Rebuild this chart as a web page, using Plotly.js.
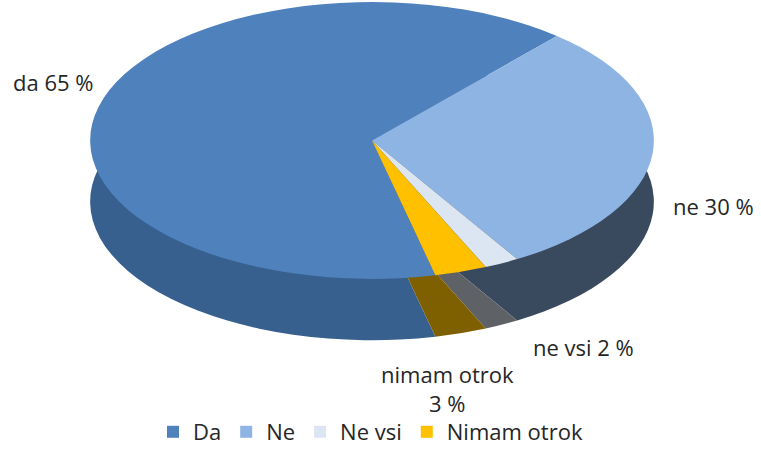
<!DOCTYPE html>
<html>
<head>
<meta charset="utf-8">
<script src="https://cdn.plot.ly/plotly-3.0.1.min.js"></script>
<style>html,body{margin:0;padding:0;background:#fff;}#chart{width:761px;height:453px;}</style>
</head>
<body>
<div id="chart"></div>
<script>
const categories = ["Da", "Ne", "Ne vsi", "Nimam otrok"];
const values = [65, 30, 2, 3];
const sliceLabels = ["da", "ne", "ne vsi", "nimam otrok"];
const colors = ["#4F81BD", "#8EB4E3", "#DCE6F2", "#FFC000"];
const sideColors = ["#37608F", "#3A4A5E", "#5E6166", "#7F6000"];

const labelPos = [
  {x: 53, y: 83, br: false},
  {x: 713, y: 208, br: false},
  {x: 583, y: 351, br: false},
  {x: 447, y: 393, br: true}
];

const W = 761, H = 453;
const FONT = "'Open Sans', Lato, sans-serif";
const annotations = categories.map((c, i) => ({
  xref: "paper", yref: "paper",
  x: labelPos[i].x / W, y: 1 - labelPos[i].y / H,
  xanchor: "center", yanchor: "middle",
  text: sliceLabels[i] + (labelPos[i].br ? "<br>" : " ") + values[i] + " %",
  showarrow: false,
  font: {family: FONT, size: 22, color: "#262626"}
}));

// pie geometry (pixels): circle later stretched horizontally into an ellipse
const cx = 372, cy = 142, ry = 140, rx = 285, depth = 62;

function pieTrace(cols, yOff, showLegend) {
  return {
    type: "pie",
    labels: categories,
    values: values,
    sort: false,
    direction: "clockwise",
    rotation: 167,
    textinfo: "none",
    hoverinfo: "skip",
    showlegend: showLegend,
    marker: {colors: cols, line: {width: 0}},
    domain: {
      x: [(cx - ry) / W, (cx + ry) / W],
      y: [1 - (cy + ry + yOff) / H, 1 - (cy - ry + yOff) / H]
    }
  };
}

const data = [
  pieTrace(sideColors, depth, false),
  pieTrace(colors, 0, true)
];

const layout = {
  width: W, height: H,
  margin: {l: 0, r: 0, t: 0, b: 0},
  paper_bgcolor: "#fff",
  showlegend: true,
  legend: {
    orientation: "h", x: 0.5 - 10 / W, xanchor: "center", y: 1 - 437 / H, yanchor: "middle",
    font: {family: FONT, size: 22, color: "#262626"},
    traceorder: "normal"
  },
  annotations: annotations
};

Plotly.newPlot("chart", data, layout, {displayModeBar: false, staticPlot: true}).then(gd => {
  const sx = rx / ry;
  gd.querySelectorAll(".pielayer").forEach(el => {
    el.setAttribute("transform", `translate(${cx},0) scale(${sx},1) translate(${-cx},0)`);
  });
});
</script>
</body>
</html>
